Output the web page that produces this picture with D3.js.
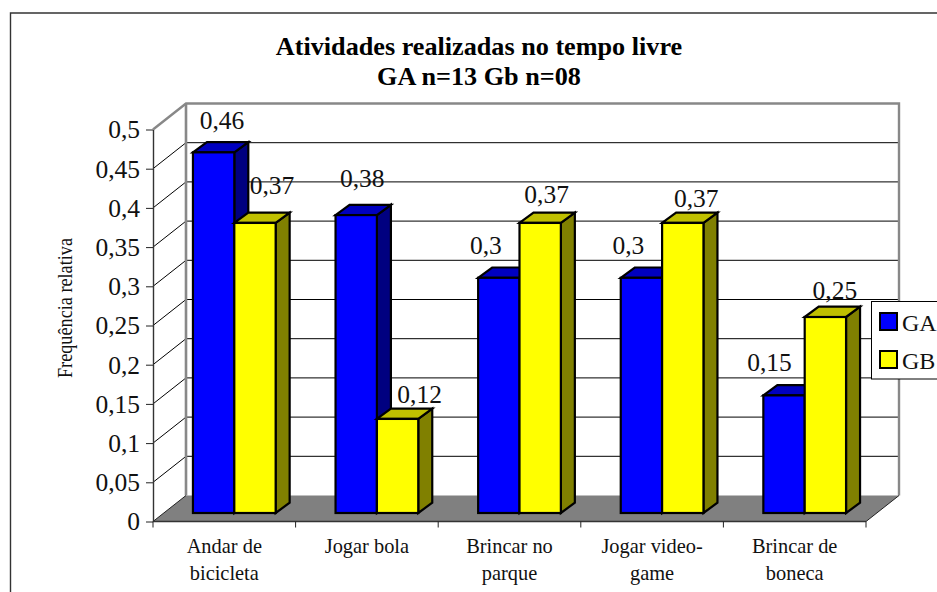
<!DOCTYPE html>
<html><head><meta charset="utf-8">
<script src="https://cdnjs.cloudflare.com/ajax/libs/d3/7.8.5/d3.min.js"></script>
<style>
html,body{margin:0;padding:0;background:#fff;overflow:hidden}
svg{display:block}
text{font-family:"Liberation Serif","Times New Roman",serif;fill:#111}
</style></head><body>
<script>
// ---- data ----
const categories = ["Andar de bicicleta","Jogar bola","Brincar no parque","Jogar video-game","Brincar de boneca"];
const categoryLines = [["Andar de","bicicleta"],["Jogar bola"],["Brincar no","parque"],["Jogar video-","game"],["Brincar de","boneca"]];
const seriesNames = ["GA","GB"];
const valuesGA = [0.46,0.38,0.30,0.30,0.15];
const valuesGB = [0.37,0.12,0.37,0.37,0.25];
const yTicks = [0,0.05,0.1,0.15,0.2,0.25,0.3,0.35,0.4,0.45,0.5];
const titleLines = ["Atividades realizadas no tempo livre","GA n=13 Gb n=08"];
const yTitle = "Frequência relativa";

// ---- layout ----
const W=937,H=592;
const left=153,right=866;
const wall={dx:33,dy:26};           // depth of the 3D box
const barPlane={dx:10,dy:8.5};      // bars stand inside the box
const barDepth={dx:14,dy:10.3};
const colours={GA:{front:"#0000ff",top:"#0000c0",side:"#000080"},GB:{front:"#ffff00",top:"#c0c000",side:"#808000"}};
// hand-placed data labels, as in the original, relative to the bar's front-top centre
const labelShift={GA:[[8.4,-23.5],[6,-28.5],[-13,-24],[-13,-24],[-14.5,-24.5]],
                  GB:[[17,-29],[22,-16],[6.5,-20],[13.5,-16],[9.5,-18]]};
const fmt=v=>String(v).replace(".",",");

const svg=d3.select("body").append("svg").attr("width",W).attr("height",H);
const xFloor=d3.scaleBand().domain(categories).range([left,right]);
const x=d3.scaleBand().domain(categories).range([left+barPlane.dx,right+barPlane.dx]).paddingInner(0.42).paddingOuter(0.21);
const xSeries=d3.scaleBand().domain(seriesNames).range([0,x.bandwidth()]);
const y=d3.scaleLinear().domain([0,0.5]).range([521.5,129.5]);
const step=xFloor.step();

// outer frame (clipped at the right and bottom in the original)
svg.append("path").attr("d",`M10.5,${H}V13H${W}`).attr("fill","none").attr("stroke","#333").attr("stroke-width",1.4);

// title
svg.append("g").selectAll("text").data(titleLines).join("text")
  .attr("x",479).attr("y",(d,i)=>55+i*30).attr("text-anchor","middle")
  .attr("font-size",26.2).attr("font-weight","bold").style("fill","#000").text(d=>d);

// floor
svg.append("path").attr("fill","#808080")
  .attr("d",`M${left},${y(0)}L${left+wall.dx},${y(0)-wall.dy}H${right+wall.dx}L${right},${y(0)}Z`);

// gridlines on back wall and side wall
const grid=svg.append("g").attr("fill","none").attr("stroke","#000").attr("stroke-width",1);
yTicks.filter(v=>v>0&&v<0.5).forEach(v=>{
  grid.append("line").attr("x1",left+wall.dx).attr("x2",right+wall.dx).attr("y1",y(v)-wall.dy).attr("y2",y(v)-wall.dy);
  grid.append("line").attr("x1",left).attr("x2",left+wall.dx).attr("y1",y(v)).attr("y2",y(v)-wall.dy);
});
// wall outline
svg.append("path").attr("fill","none").attr("stroke","#888").attr("stroke-width",2.4)
  .attr("d",`M${left},${y(0.5)}L${left+wall.dx},${y(0.5)-wall.dy}H${right+wall.dx}V${y(0)-wall.dy}`);
svg.append("path").attr("fill","none").attr("stroke","#888").attr("stroke-width",2.6)
  .attr("d",`M${left+wall.dx},${y(0.5)-wall.dy}V${y(0)-wall.dy}`);
svg.append("path").attr("fill","none").attr("stroke","#222").attr("stroke-width",1)
  .attr("d",`M${right+wall.dx},${y(0)-wall.dy}L${right},${y(0)}`);
svg.append("path").attr("fill","none").attr("stroke","#222").attr("stroke-width",1)
  .attr("d",`M${left+wall.dx},${y(0)-wall.dy}L${left},${y(0)}`);

// y axis
const yAxis=svg.append("g").attr("transform",`translate(${left},0)`)
  .call(d3.axisLeft(y).tickValues(yTicks).tickFormat(fmt).tickSize(7).tickPadding(6).tickSizeOuter(0));
yAxis.select(".domain").attr("stroke","#333").attr("stroke-width",1.4);
yAxis.selectAll(".tick line").attr("stroke","#222");
yAxis.selectAll("text").attr("font-size",25.5).attr("font-family",'"Liberation Serif",serif').attr("fill","#111").attr("dy","0.33em");

// category axis: ticks sit on the band boundaries
const floorAxis=svg.append("g");
floorAxis.append("line").attr("x1",left).attr("x2",right).attr("y1",y(0)).attr("y2",y(0)).attr("stroke","#333").attr("stroke-width",1.4);
floorAxis.selectAll(".t").data(d3.range(categories.length+1)).join("line").attr("class","t")
  .attr("x1",i=>left+i*step).attr("x2",i=>left+i*step).attr("y1",y(0)).attr("y2",y(0)+6).attr("stroke","#222");
floorAxis.selectAll(".c").data(categories).join("text").attr("class","c")
  .attr("text-anchor","middle").attr("font-size",20.4)
  .each(function(c,i){
    d3.select(this).selectAll("tspan").data(categoryLines[i]).join("tspan")
      .attr("x",xFloor(c)+xFloor.bandwidth()/2)
      .attr("y",(d,j)=>553+j*27).text(d=>d);
  });

// y title
svg.append("text").attr("transform","translate(71.5,308) rotate(-90)").attr("text-anchor","middle")
  .attr("font-size",20).attr("textLength",140).attr("lengthAdjust","spacingAndGlyphs").text(yTitle);

// bars
const barY=v=>y(v)-barPlane.dy;
const bars=svg.append("g").attr("stroke","#000").attr("stroke-width",2.2).attr("stroke-linejoin","miter");
categories.forEach((c,i)=>{
  [["GA",valuesGA[i]],["GB",valuesGB[i]]].forEach(([s,v])=>{
    const x0=x(c)+xSeries(s),x1=x0+xSeries.bandwidth(),t=barY(v),b=barY(0),col=colours[s];
    const d=barDepth;
    bars.append("path").attr("fill",col.side).attr("d",`M${x1},${t}L${x1+d.dx},${t-d.dy}V${b-d.dy}L${x1},${b}Z`);
    bars.append("path").attr("fill",col.top).attr("d",`M${x0},${t}L${x0+d.dx},${t-d.dy}H${x1+d.dx}L${x1},${t}Z`);
    bars.append("rect").attr("fill",col.front).attr("x",x0).attr("y",t).attr("width",x1-x0).attr("height",b-t);
  });
});

// data labels
const labels=svg.append("g").attr("text-anchor","middle").attr("font-size",25.5);
categories.forEach((c,i)=>{
  [["GA",valuesGA[i]],["GB",valuesGB[i]]].forEach(([s,v])=>{
    const [sx,sy]=labelShift[s][i];
    labels.append("text").attr("x",x(c)+xSeries(s)+xSeries.bandwidth()/2+sx).attr("y",barY(v)+sy).text(fmt(v));
  });
});

// legend (runs off the right edge, as in the original)
const legend=svg.append("g");
legend.append("rect").attr("x",871.5).attr("y",301.5).attr("width",90).attr("height",77.5).attr("fill","#fff").attr("stroke","#000");
seriesNames.forEach((s,i)=>{
  legend.append("rect").attr("x",880).attr("y",313+i*38).attr("width",17).attr("height",17)
    .attr("fill",colours[s].front).attr("stroke","#000").attr("stroke-width",2);
  legend.append("text").attr("x",902).attr("y",331+i*38).attr("font-size",24).text(s);
});
</script>
</body></html>
